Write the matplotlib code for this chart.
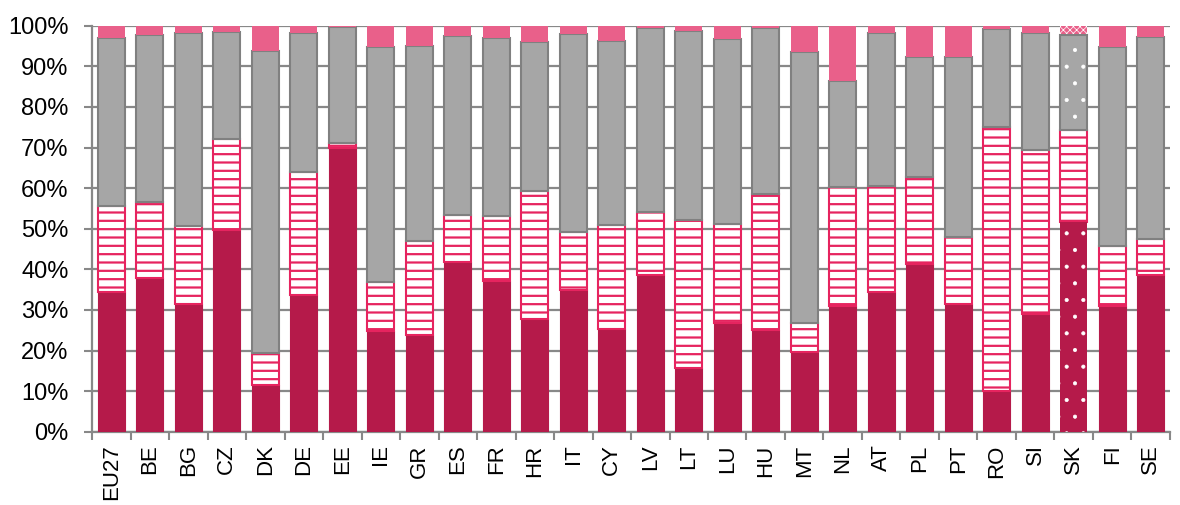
import matplotlib
matplotlib.use("Agg")
import matplotlib.pyplot as plt
import numpy as np

# country codes
countries = ['EU27', 'BE', 'BG', 'CZ', 'DK', 'DE', 'EE', 'IE', 'GR', 'ES', 'FR', 'HR', 'IT', 'CY',
             'LV', 'LT', 'LU', 'HU', 'MT', 'NL', 'AT', 'PL', 'PT', 'RO', 'SI', 'SK', 'FI', 'SE']

# shares in %, bottom to top
solid = [34.5, 37.8, 31.4, 49.7, 11.4, 33.8, 70.0, 24.8, 23.9, 41.9, 37.1, 27.8, 34.8, 25.4,
         38.6, 15.7, 26.7, 25.0, 19.6, 31.1, 34.5, 41.3, 31.4, 10.1, 29.0, 51.7, 30.9, 38.5]
striped = [21.2, 18.9, 19.3, 22.3, 7.9, 30.2, 1.2, 12.2, 23.1, 11.6, 16.1, 31.4, 14.5, 25.5,
           15.6, 36.4, 24.4, 33.5, 7.1, 29.1, 26.0, 21.5, 16.5, 64.9, 40.5, 22.6, 14.9, 9.1]
grey = [41.3, 41.0, 47.6, 26.5, 74.5, 34.3, 28.5, 57.8, 48.0, 44.0, 43.8, 36.8, 48.7, 45.3,
        45.3, 46.6, 45.6, 41.0, 66.8, 26.3, 37.8, 29.5, 44.4, 24.3, 28.7, 23.4, 48.9, 49.7]
rest = [100 - a - b - c for a, b, c in zip(solid, striped, grey)]

c_dark = '#B51A4A'
c_line = '#E6245F'
c_grey = '#A6A6A6'
c_pink = '#E9608A'

plt.rcParams['font.family'] = ['Liberation Sans', 'DejaVu Sans']
plt.rcParams['hatch.linewidth'] = 1.6

fig = plt.figure(figsize=(11.8, 5.05), dpi=100)
ax = fig.add_axes([0.078, 0.145, 0.9135, 0.804])

x = np.arange(len(countries))
w = 0.7
sk = countries.index('SK')
normal = [i for i in x if i != sk]

def pick(vals, idx):
    return [vals[i] for i in idx]

b1 = np.array(solid)
b2 = b1 + np.array(striped)
b3 = b2 + np.array(grey)

# regular bars
ax.bar(normal, pick(solid, normal), w, color=c_dark, edgecolor=c_dark, lw=0.8, zorder=3)
ax.bar(x, striped, w, bottom=b1, color='white', edgecolor=c_line, hatch='--', lw=1.5, zorder=3)
ax.bar(normal, pick(grey, normal), w, bottom=pick(b2, normal), color=c_grey,
       edgecolor='#808080', lw=1.5, zorder=3)
ax.bar(normal, pick(rest, normal), w, bottom=pick(b3, normal), color=c_pink, lw=0, zorder=3)

# SK drawn with dotted fills, thin hatch strokes so the dots stay small
plt.rcParams['hatch.linewidth'] = 0.5
dotted = []
dotted += ax.bar(sk, solid[sk], w, color=c_dark, edgecolor='white', hatch='.', lw=0, zorder=3)
dotted += ax.bar(sk, grey[sk], w, bottom=b2[sk], color=c_grey, edgecolor='white', hatch='.', lw=0, zorder=3)
dotted += ax.bar(sk, rest[sk], w, bottom=b3[sk], color=c_pink, edgecolor='white', hatch='xxxxx', lw=0, zorder=3)
for p in dotted:
    if hasattr(p, 'set_hatch_linewidth'):
        p.set_hatch_linewidth(0.5)
ax.bar(sk, grey[sk], w, bottom=b2[sk], fill=False, edgecolor='#808080', lw=1.5, zorder=4)

ax.set_xlim(-0.5, len(countries) - 0.5)
ax.set_ylim(0, 100)
ax.set_yticks(np.arange(0, 101, 10))
ax.set_yticklabels([f'{v}%' for v in range(0, 101, 10)], fontsize=17)
ax.set_xticks(x)
ax.set_xticklabels(countries, rotation=90, fontsize=16)
ax.set_xticks(np.arange(-0.5, len(countries), 1), minor=True)
ax.tick_params(axis='x', which='major', length=0, pad=9)
ax.tick_params(axis='x', which='minor', length=6, width=1.5, color='#888888')
ax.tick_params(axis='y', length=6, width=1.5, color='#888888', pad=11)

ax.grid(axis='y', color='#888888', lw=1.6, zorder=0)
ax.set_axisbelow(True)
for s in ['top', 'right']:
    ax.spines[s].set_visible(False)
for s in ['left', 'bottom']:
    ax.spines[s].set_color('#888888')
    ax.spines[s].set_linewidth(1.6)

fig.savefig('out.png', dpi=100)
